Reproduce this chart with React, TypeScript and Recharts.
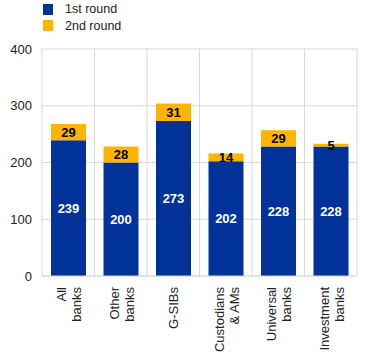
import React from 'react';
import {
  BarChart,
  Bar,
  XAxis,
  YAxis,
  CartesianGrid,
  Legend,
  LabelList,
} from 'recharts';

// Bank categories, each label split into its lines
const categories = ['All banks', 'Other banks', 'G-SIBs', 'Custodians & AMs', 'Universal banks', 'Investment banks'];
const categoryLines = [['All', 'banks'], ['Other', 'banks'], ['G-SIBs'], ['Custodians', '& AMs'], ['Universal', 'banks'], ['Investment', 'banks']];

// Series values
const firstRound = [239, 200, 273, 202, 228, 228];
const secondRound = [29, 28, 31, 14, 29, 5];

const yTicks = [0, 100, 200, 300, 400];

const BLUE = '#003299';
const ORANGE = '#FFB400';
const GRID = '#d9d9d9';
const FONT = '"Liberation Sans", Arial, sans-serif';

const data = categories.map((name, i) => ({
  name,
  lines: categoryLines[i],
  first: firstRound[i],
  second: secondRound[i],
}));

// Rotated two-line category label
const CategoryTick = (props: any) => {
  const { x, y, payload } = props;
  const lines: string[] = categoryLines[payload.index] || [payload.value];
  const offsets = lines.length === 1 ? [5] : [-2, 13];
  return (
    <g transform={`translate(${x},${y})`}>
      <text transform="rotate(-90)" textAnchor="end" fill="#222" fontSize={13} fontFamily={FONT}>
        {lines.map((line, i) => (
          <tspan key={i} x={-11} y={offsets[i]}>
            {line}
          </tspan>
        ))}
      </text>
    </g>
  );
};

const LegendContent = () => {
  const items = [
    { label: '1st round', color: BLUE },
    { label: '2nd round', color: ORANGE },
  ];
  return (
    <div style={{ fontFamily: FONT, fontSize: 12.5, color: '#222' }}>
      {items.map((item) => (
        <div key={item.label} style={{ display: 'flex', alignItems: 'center', height: 16.5 }}>
          <span style={{ width: 10, height: 11, background: item.color, display: 'inline-block' }} />
          <span style={{ marginLeft: 12 }}>{item.label}</span>
        </div>
      ))}
    </div>
  );
};

// Vertical gridlines on category boundaries, including both plot edges
const boundaryLines = ({ offset }: any) =>
  categories.map((_, i) => offset.left + (i * offset.width) / categories.length).concat(offset.left + offset.width);

const App: React.FC = () => {
  return (
    <div style={{ position: 'absolute', left: 0, top: 0, width: 371, height: 357, background: '#fff' }}>
      <BarChart
        width={371}
        height={357}
        data={data}
        margin={{ top: 49, right: 14, bottom: 0, left: 0 }}
        style={{ fontFamily: FONT }}
      >
        <CartesianGrid stroke={GRID} verticalCoordinatesGenerator={boundaryLines} />
        <XAxis
          dataKey="name"
          height={81}
          axisLine={{ stroke: GRID }}
          tickLine={false}
          tickSize={0}
          tickMargin={0}
          interval={0}
          tick={<CategoryTick />}
        />
        <YAxis
          width={42}
          domain={[0, 400]}
          ticks={yTicks}
          axisLine={false}
          tickLine={false}
          tickSize={0}
          tickMargin={10}
          tick={{ fill: '#222', fontSize: 13, fontFamily: FONT }}
        />
        <Legend
          layout="vertical"
          align="center"
          verticalAlign="middle"
          content={<LegendContent />}
          wrapperStyle={{ top: 1, left: 43, width: 150, height: 36 }}
        />
        <Bar dataKey="first" name="1st round" stackId="a" fill={BLUE} barSize={35} isAnimationActive={false}>
          <LabelList dataKey="first" position="center" fill="#fff" fontSize={13} fontWeight="bold" fontFamily={FONT} />
        </Bar>
        <Bar dataKey="second" name="2nd round" stackId="a" fill={ORANGE} barSize={35} isAnimationActive={false}>
          <LabelList dataKey="second" position="center" fill="#000" fontSize={13} fontWeight="bold" fontFamily={FONT} />
        </Bar>
      </BarChart>
    </div>
  );
};

export default App;
